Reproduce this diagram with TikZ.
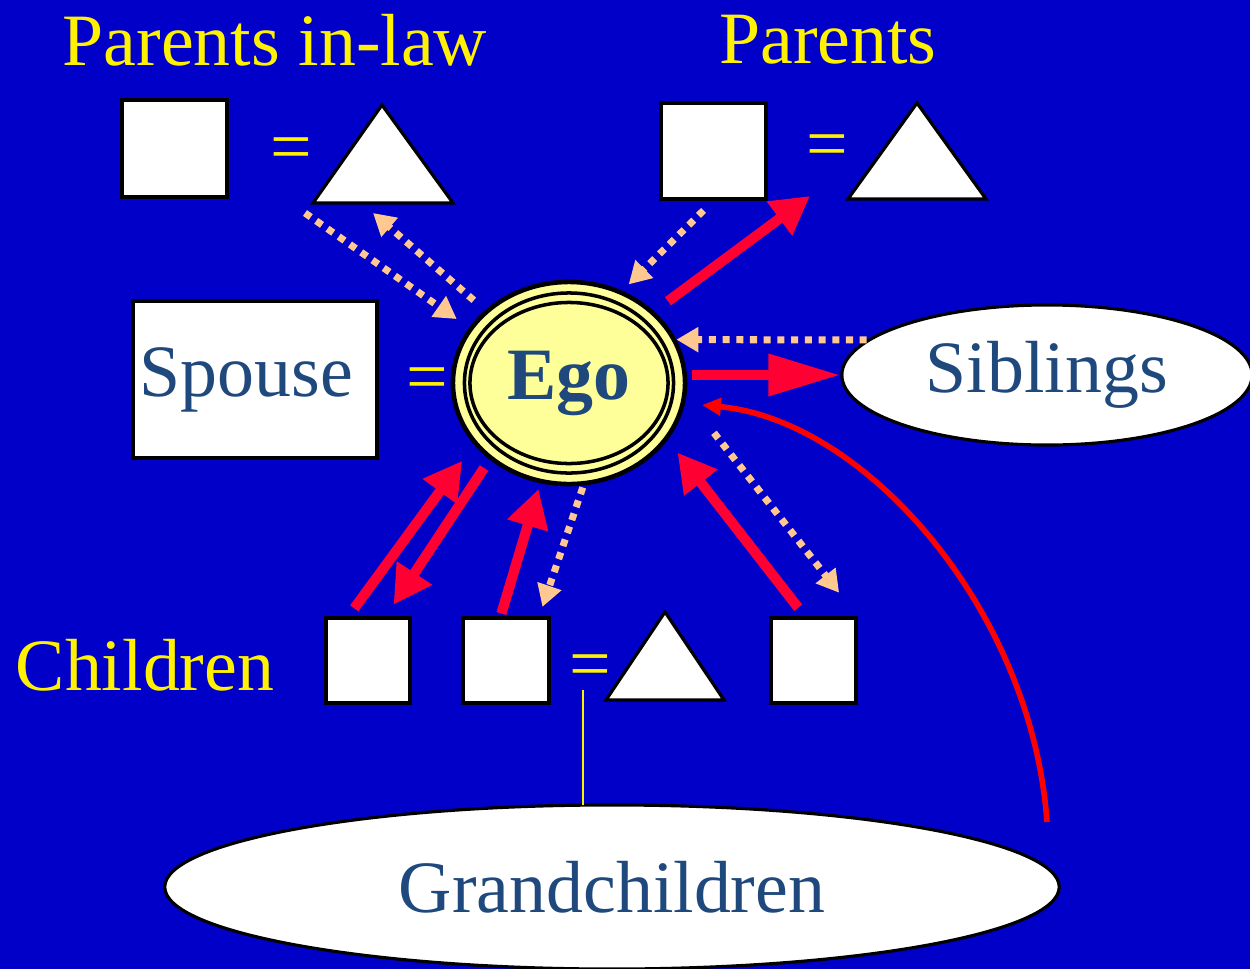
\documentclass[tikz,border=0pt]{standalone}
\usepackage{fontspec}
\setmainfont{Liberation Serif}
\usetikzlibrary{arrows.meta,shapes.geometric}
\definecolor{slideblue}{RGB}{0,0,200}
\definecolor{kinred}{RGB}{255,0,51}
\definecolor{kinpeach}{RGB}{255,200,144}
\definecolor{egofill}{RGB}{255,255,153}
\definecolor{labelblue}{RGB}{31,73,125}
\begin{document}
\begin{tikzpicture}[x=0.01cm, y=-0.01cm,
  font=\fontsize{21}{25}\selectfont,
  title/.style={text=yellow, inner sep=0pt},
  kin/.style={draw=black, fill=white, line width=0.9pt},
  box/.style={kin, rectangle, inner sep=0pt},
  oval/.style={kin, ellipse, inner sep=0pt, text=labelblue},
  give/.style={draw=kinred, line width=2.9pt, -{Triangle[length=0.38cm,width=0.4cm]}},
  take/.style={draw=kinpeach, line width=2pt, dash pattern=on 2pt off 1.9pt, -{Triangle[length=0.22cm,width=0.24cm]}},
  tie/.style={draw=red, line width=1.6pt, -{Triangle[length=0.19cm,width=0.17cm]}}]
\useasboundingbox (0,0) rectangle (1250,969);
\fill[slideblue] (0,0) rectangle (1250,969);

\node[title] (pinlT) at (275,40) {Parents in-law};
\node[title] (parT) at (828,40) {Parents};

\node[box, minimum width=1.05cm, minimum height=0.97cm] (pinlM) at (174.5,148.5) {};
\node[title] (pinlEq) at (291,155) {=};
\draw[kin] (382,105) -- (453,203) -- (313,203) -- cycle;
\node[box, minimum width=1.05cm, minimum height=0.96cm] (parM) at (713.5,151) {};
\node[title] (parEq) at (827,152) {=};
\draw[kin] (917,103) -- (986,199) -- (848,199) -- cycle;

\node[box, minimum height=1.57cm, inner xsep=0.07cm, text width=2.3cm, align=left, text=labelblue] (spouse) at (255,379.5) {Spouse};
\node[title] (spouseEq) at (427,385) {=};
\node[oval, fill=egofill, line width=1.3pt, minimum width=2.32cm, minimum height=2.02cm,
  font=\fontsize{21}{25}\selectfont\bfseries] (ego) at (569,383) {Ego};
\draw[line width=1pt] (ego.center) ellipse [x radius=1.045cm, y radius=0.9cm];
\draw[line width=1pt] (ego.center) ellipse [x radius=0.99cm, y radius=0.805cm];
\node[oval, minimum width=4.1cm, minimum height=1.4cm] (sib) at (1047,375) {Siblings};

\node[title] (childT) at (145,665) {Children};
\node[box, minimum width=0.84cm, minimum height=0.85cm] (childA) at (368,660.5) {};
\node[box, minimum width=0.86cm, minimum height=0.85cm] (childB) at (506,660.5) {};
\node[title] (childEq) at (590,672) {=};
\draw[kin] (665,612) -- (724,700) -- (606,700) -- cycle;
\node[box, minimum width=0.85cm, minimum height=0.85cm] (childC) at (813.5,660.5) {};
\node[oval, minimum width=8.94cm, minimum height=1.64cm] (grand) at (612,887) {Grandchildren};

\coordinate (pinlOut) at (305,213);
\coordinate (pinlIn) at (373,213);
\coordinate (parIn) at (810,196);
\coordinate (gcTop) at (583,805);
\coordinate (curveFoot) at (1047,822);

\draw[yellow, line width=0.6pt] (childEq.south -| gcTop) -- (gcTop);

\draw[give, shorten <=0.17cm] (ego.40) -- (parIn);
\draw[give, -{Triangle[length=0.72cm,width=0.4cm]}, shorten <=0.05cm] (ego.east |- sib.west) -- (sib.west);
\draw[give, shorten <=0.1cm, shorten >=0.2cm] (childA.114) -- (ego.213);
\draw[give, shorten <=0.1cm, shorten >=0.14cm] (ego.224) -- (childA.68);
\draw[give, shorten <=0.03cm, shorten >=0.06cm] (childB.97) -- (ego.254);
\draw[give, shorten <=0.11cm, shorten >=0.16cm] (childC.101) -- (ego.330);

\draw[take, shorten >=0.15cm] (pinlOut) -- (ego.151);
\draw[take, shorten <=0.15cm] (ego.139) -- (pinlIn);
\draw[take, shorten <=0.14cm, shorten >=0.09cm] (parM.south) -- (ego.60);
\draw[take] (sib.169) -- (ego.22);
\draw[take, shorten <=0.02cm, shorten >=0.1cm] (ego.278) -- (childB.53);
\draw[take, shorten <=0.45cm, shorten >=0.3cm] (ego.353) -- (childC.north east);

\draw[tie, shorten >=0.17cm] (curveFoot) .. controls (1032,610) and (865,420) .. (ego.350);
\end{tikzpicture}
\end{document}
